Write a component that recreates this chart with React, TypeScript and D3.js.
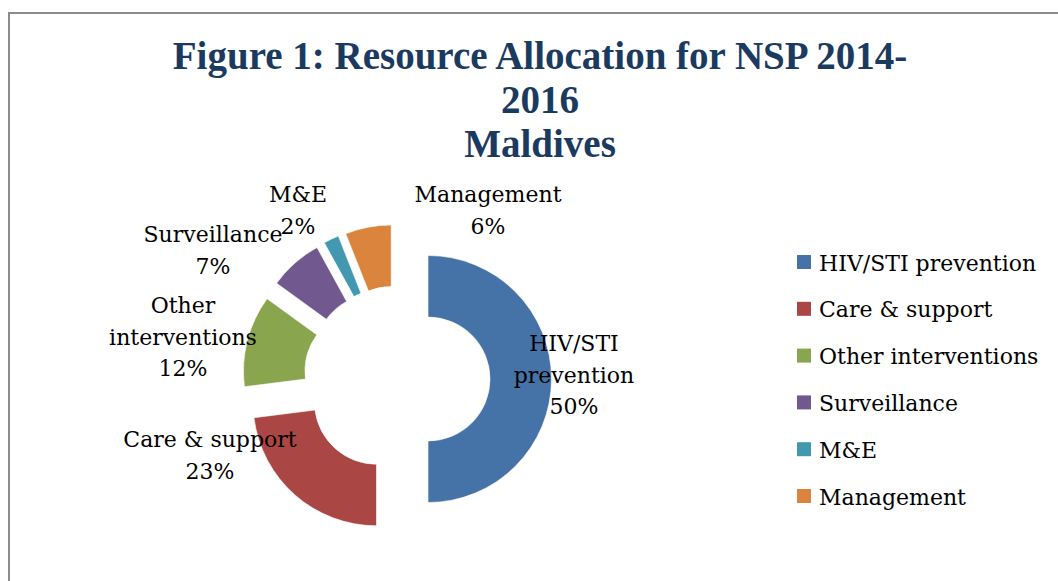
import { useEffect, useRef } from "react"
import * as d3 from "d3"

const categories = ["HIV/STI prevention", "Care & support", "Other interventions", "Surveillance", "M&E", "Management"]
const shares = [50, 23, 12, 7, 2, 6]
const colors = ["#4572A7", "#AA4643", "#89A54E", "#71588F", "#4198AF", "#DB843D"]
// data label lines as they appear on the chart
const labelLines = [
  ["HIV/STI", "prevention"],
  ["Care & support"],
  ["Other", "interventions"],
  ["Surveillance"],
  ["M&E"],
  ["Management"],
]
const titleLines = ["Figure 1: Resource Allocation for NSP 2014-", "2016", "Maldives"]

const W = 1058
const H = 581

// label placement relative to the pie centre (Excel "best fit" result)
const labelOffset = [
  [177, -28],
  [-187, 68],
  [-214, -66],
  [-184, -137],
  [-99, -177],
  [91, -177],
]

const App = () => {
  const ref = useRef<SVGSVGElement>(null)

  useEffect(() => {
    const svg = d3.select(ref.current)
    svg.selectAll("*").remove()

    // frame (only top & left visible)
    svg.append("line").attr("x1", 9).attr("y1", 13).attr("x2", W).attr("y2", 13)
      .attr("stroke", "#8c8c8c").attr("stroke-width", 2)
    svg.append("line").attr("x1", 9).attr("y1", 12).attr("x2", 9).attr("y2", H)
      .attr("stroke", "#8c8c8c").attr("stroke-width", 2)

    // title
    svg.append("g")
      .attr("font-family", "'Liberation Serif', serif")
      .attr("font-weight", "bold")
      .attr("font-size", 39)
      .attr("fill", "#1B3A5F")
      .attr("text-anchor", "middle")
      .selectAll("text")
      .data(titleLines)
      .join("text")
      .attr("x", 540)
      .attr("y", (d, i) => 69 + i * 44)
      .text(d => d)

    const cx = 397, cy = 379
    const outerR = 123.5, innerR = 62, explode = 31

    const pie = d3.pie<number>().sort(null).value(d => d)
    const arcs = pie(shares)
    const arc = d3.arc<d3.PieArcDatum<number>>().innerRadius(innerR).outerRadius(outerR)

    const g = svg.append("g").attr("transform", `translate(${cx},${cy})`)

    g.selectAll("path")
      .data(arcs)
      .join("path")
      .attr("d", arc)
      .attr("fill", (d, i) => colors[i])
      .attr("stroke", "#ffffff")
      .attr("stroke-width", 0.6)
      .attr("transform", d => {
        const a = (d.startAngle + d.endAngle) / 2
        return `translate(${explode * Math.sin(a)},${-explode * Math.cos(a)})`
      })

    // data labels
    const lineH = 31.5
    const labels = g.append("g")
      .attr("font-family", "'DejaVu Serif', serif")
      .attr("font-size", 22)
      .attr("fill", "#000")
      .attr("text-anchor", "middle")
      .selectAll("text")
      .data(arcs)
      .join("text")
      .attr("transform", (d, i) => `translate(${labelOffset[i][0]},${labelOffset[i][1]})`)

    labels.each(function (d, i) {
      const t = d3.select(this)
      const lines = [...labelLines[i], d3.format(".0f")(shares[i]) + "%"]
      lines.forEach((ln, j) => {
        t.append("tspan").attr("x", 0).attr("y", j * lineH).text(ln)
      })
    })

    // legend
    const legend = svg.append("g")
      .attr("font-family", "'DejaVu Serif', serif")
      .attr("font-size", 22)
      .selectAll("g")
      .data(categories)
      .join("g")
      .attr("transform", (d, i) => `translate(797,${255 + i * 46.8})`)

    legend.append("rect")
      .attr("width", 14).attr("height", 14)
      .attr("fill", (d, i) => colors[i])
    legend.append("text")
      .attr("x", 22).attr("y", 15.5)
      .attr("fill", "#000")
      .text(d => d)
  }, [])

  return (
    <svg ref={ref} width={W} height={H}
      style={{ position: "absolute", left: 0, top: 0, display: "block", background: "#fff" }} />
  )
}
export default App
